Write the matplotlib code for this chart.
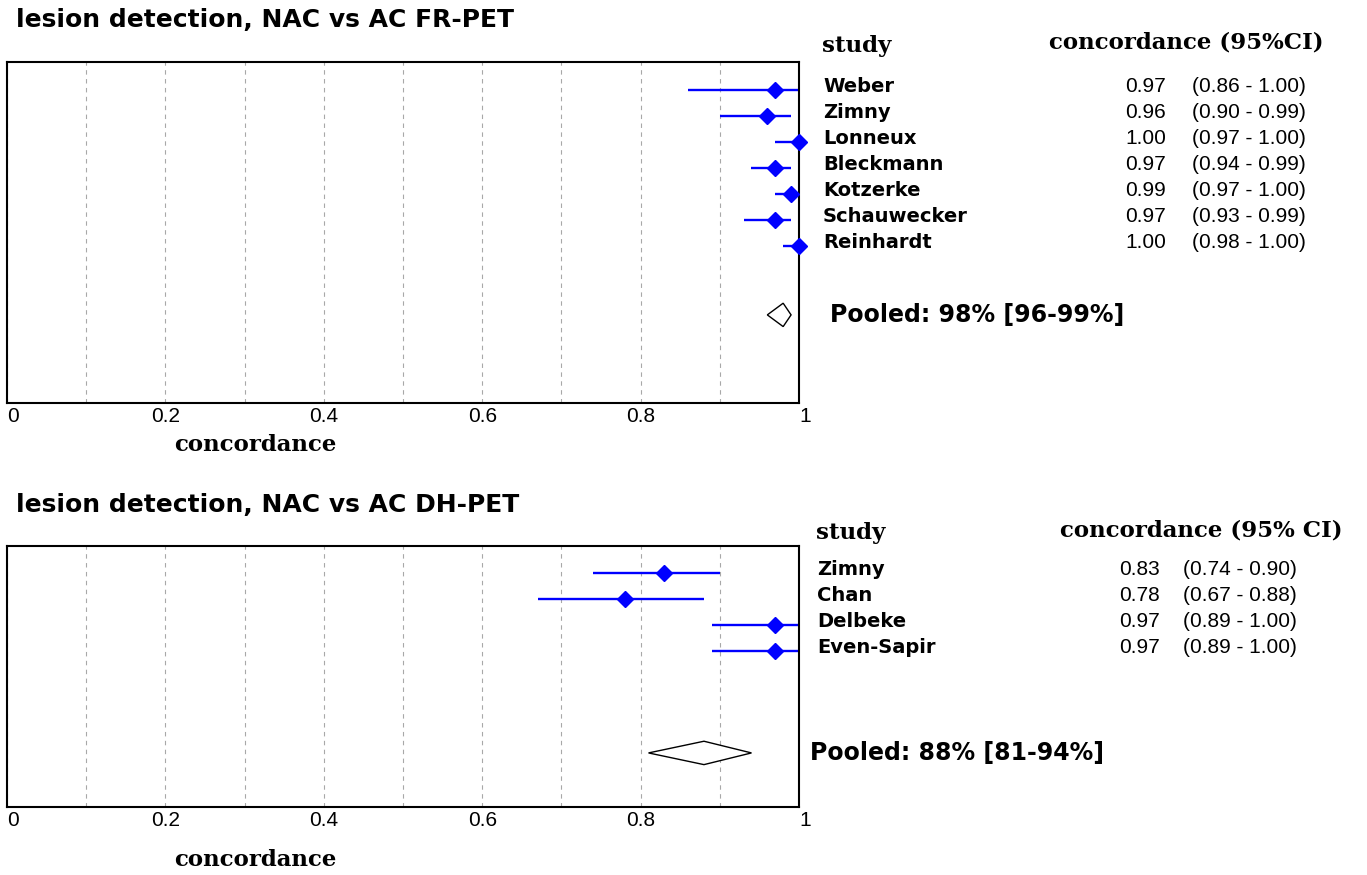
import matplotlib.pyplot as plt
from matplotlib.ticker import MultipleLocator
from matplotlib.transforms import blended_transform_factory

# lesion detection, NAC vs AC FR-PET
fr_studies = ['Weber', 'Zimny', 'Lonneux', 'Bleckmann', 'Kotzerke', 'Schauwecker', 'Reinhardt']
fr_est = [0.97, 0.96, 1.00, 0.97, 0.99, 0.97, 1.00]
fr_lo = [0.86, 0.90, 0.97, 0.94, 0.97, 0.93, 0.98]
fr_hi = [1.00, 0.99, 1.00, 0.99, 1.00, 0.99, 1.00]
fr_pooled = [0.96, 0.98, 0.99]   # lower, estimate, upper

# lesion detection, NAC vs AC DH-PET
dh_studies = ['Zimny', 'Chan', 'Delbeke', 'Even-Sapir']
dh_est = [0.83, 0.78, 0.97, 0.97]
dh_lo = [0.74, 0.67, 0.89, 0.89]
dh_hi = [0.90, 0.88, 1.00, 1.00]
dh_pooled = [0.81, 0.88, 0.94]

xticks = [0, 0.2, 0.4, 0.6, 0.8, 1]
xticklabels = ['0', '0.2', '0.4', '0.6', '0.8', '1']

W, H = 1367, 875
fig = plt.figure(figsize=(W / 100, H / 100), dpi=100)

narrow = ['Liberation Sans', 'DejaVu Sans']
serif = 'DejaVu Serif'


def fx(px):
    return px / W


def fy(py):
    return 1 - py / H


def panel(rect, studies, est, lo, hi, pooled, ylim, pooled_y, hdr):
    ax = fig.add_axes(rect)
    rows = list(range(1, len(studies) + 1))

    ax.hlines(rows, lo, hi, color='#0000ff', lw=1.7, clip_on=False)
    ax.plot(est, rows, 'D', color='#0000ff', ms=8, clip_on=False, zorder=3)

    # pooled diamond
    p_lo, p_est, p_hi = pooled
    dh = 0.45
    ax.fill([p_lo, p_est, p_hi, p_est], [pooled_y, pooled_y - dh, pooled_y, pooled_y + dh],
            facecolor='white', edgecolor='black', lw=1.0, zorder=3)

    ax.set_xlim(0, 1)
    ax.set_ylim(*ylim)
    ax.set_yticks([])
    ax.set_xticks(xticks)
    labels = ax.set_xticklabels(xticklabels, family=narrow, fontsize=15)
    labels[0].set_ha('left')
    labels[-1].set_ha('left')
    ax.xaxis.set_minor_locator(MultipleLocator(0.1))
    ax.tick_params(axis='x', which='both', length=0, pad=3)
    ax.grid(which='both', axis='x', color='#a8a8a8', lw=0.8, ls=(0, (4, 4)))
    for s in ax.spines.values():
        s.set_linewidth(1.5)

    tr = blended_transform_factory(fig.transFigure, ax.transData)
    for r, name, e, l, h in zip(rows, studies, est, lo, hi):
        ax.text(fx(hdr['name_x']), r - 0.15, name, transform=tr, ha='left', va='center',
                fontsize=14, fontweight='bold', clip_on=False)
        ax.text(fx(hdr['val_x']), r - 0.12, f'{e:.2f}', transform=tr, ha='right', va='center',
                family=narrow, fontsize=15, clip_on=False)
        ax.text(fx(hdr['ci_x']), r - 0.12, f'({l:.2f} - {h:.2f})', transform=tr, ha='left',
                va='center', family=narrow, fontsize=15, clip_on=False)

    ax.text(fx(hdr['pool_x']), pooled_y, f'Pooled: {p_est * 100:.0f}% [{p_lo * 100:.0f}-{p_hi * 100:.0f}%]',
            transform=tr, ha='left', va='center', fontsize=17, fontweight='bold', clip_on=False)
    return ax


# top panel
panel([fx(7), fy(403), 792 / W, 341 / H], fr_studies, fr_est, fr_lo, fr_hi, fr_pooled,
      (13.04, -0.08), 9.65,
      dict(name_x=823, val_x=1166, ci_x=1192, pool_x=830))
fig.text(fx(16), fy(20), 'lesion detection, NAC vs AC FR-PET', ha='left', va='center',
         fontsize=18, fontweight='bold')
fig.text(fx(822), fy(46), 'study', ha='left', va='center', family=serif, fontsize=16.5, fontweight='bold')
fig.text(fx(1049), fy(43), 'concordance (95%CI)', ha='left', va='center', family=serif,
         fontsize=16.5, fontweight='bold')
fig.text(fx(255), fy(445), 'concordance', ha='center', va='center', family=serif,
         fontsize=16.5, fontweight='bold')

# bottom panel
panel([fx(7), fy(807), 792 / W, 261 / H], dh_studies, dh_est, dh_lo, dh_hi, dh_pooled,
      (10.0, -0.04), 7.92,
      dict(name_x=817, val_x=1160, ci_x=1183, pool_x=810))
fig.text(fx(16), fy(505), 'lesion detection, NAC vs AC DH-PET', ha='left', va='center',
         fontsize=18, fontweight='bold')
fig.text(fx(816), fy(533), 'study', ha='left', va='center', family=serif, fontsize=16.5, fontweight='bold')
fig.text(fx(1060), fy(531), 'concordance (95% CI)', ha='left', va='center', family=serif,
         fontsize=16.5, fontweight='bold')
fig.text(fx(255), fy(860), 'concordance', ha='center', va='center', family=serif,
         fontsize=16.5, fontweight='bold')

fig.savefig('out.png', dpi=100, facecolor='white')
